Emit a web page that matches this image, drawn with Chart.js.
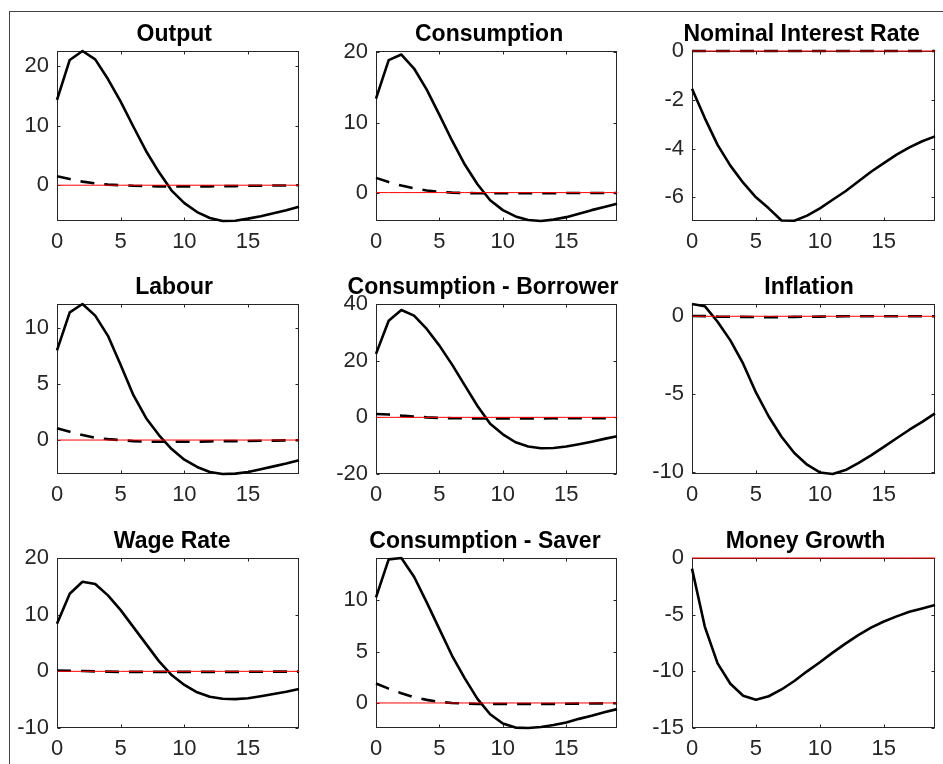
<!DOCTYPE html>
<html>
<head>
<meta charset="utf-8">
<script src="https://cdn.jsdelivr.net/npm/chart.js@4.4.1/dist/chart.umd.min.js"></script>
<style>
  html, body { margin: 0; padding: 0; background: #fff; overflow: hidden; }
  body { width: 943px; height: 764px; position: relative; }
  #frame { position: absolute; left: 9px; top: 11px; width: 1000px; height: 800px;
           border-left: 1px solid #444; border-top: 1px solid #444; }
  canvas { position: absolute; }
</style>
</head>
<body>
<div id="frame"></div>
<script>
// impulse responses, periods 0..19
const periods = [0, 1, 2, 3, 4, 5, 6, 7, 8, 9, 10, 11, 12, 13, 14, 15, 16, 17, 18, 19];
const xTickValues = [0, 5, 10, 15];
const zeroLine = [0, 0, 0, 0, 0, 0, 0, 0, 0, 0, 0, 0, 0, 0, 0, 0, 0, 0, 0, 0];

const panelTitles = ['Output', 'Consumption', 'Nominal Interest Rate',
                     'Labour', 'Consumption - Borrower', 'Inflation',
                     'Wage Rate', 'Consumption - Saver', 'Money Growth'];

const outputSolid = [14.3, 21.0, 22.5, 21.1, 17.8, 14.0, 9.8, 5.7, 2.2, -0.9, -3.0, -4.5, -5.5, -6.0, -5.95, -5.6, -5.2, -4.7, -4.2, -3.6];
const outputDashed = [1.5, 1.05, 0.6, 0.3, 0.1, 0.0, -0.1, -0.15, -0.2, -0.2, -0.2, -0.2, -0.2, -0.15, -0.15, -0.1, -0.1, -0.05, -0.05, 0.0];

const consSolid = [13.4, 18.9, 19.7, 17.7, 14.7, 11.1, 7.4, 4.0, 1.2, -1.1, -2.5, -3.4, -3.9, -4.05, -3.85, -3.5, -3.0, -2.5, -2.05, -1.6];
const consDashed = [2.1, 1.5, 1.0, 0.6, 0.3, 0.1, 0.0, -0.05, -0.1, -0.1, -0.1, -0.1, -0.1, -0.1, -0.1, -0.05, -0.05, -0.05, -0.05, -0.05];

const rateSolid = [-1.55, -2.75, -3.85, -4.7, -5.4, -6.0, -6.45, -6.95, -6.96, -6.75, -6.45, -6.1, -5.75, -5.35, -4.95, -4.6, -4.25, -3.95, -3.7, -3.5];
const rateDashed = [0, 0, 0, 0, 0, 0, 0, 0, 0, 0, 0, 0, 0, 0, 0, 0, 0, 0, 0, 0];

const labourSolid = [8.0, 11.4, 12.14, 11.1, 9.3, 6.7, 4.0, 1.95, 0.45, -0.8, -1.75, -2.4, -2.85, -3.03, -3.0, -2.85, -2.6, -2.35, -2.1, -1.8];
const labourDashed = [1.05, 0.75, 0.45, 0.2, 0.08, 0.0, -0.1, -0.15, -0.15, -0.15, -0.15, -0.15, -0.12, -0.1, -0.1, -0.08, -0.06, -0.05, -0.03, -0.02];

const borrowerSolid = [22.4, 34.1, 37.9, 35.9, 31.2, 25.3, 18.6, 11.3, 4.0, -2.3, -6.0, -8.8, -10.3, -10.9, -10.8, -10.3, -9.5, -8.6, -7.6, -6.7];
const borrowerDashed = [1.2, 1.0, 0.6, 0.3, 0.0, -0.2, -0.3, -0.35, -0.4, -0.4, -0.4, -0.4, -0.4, -0.4, -0.35, -0.35, -0.3, -0.3, -0.3, -0.3];

const inflationSolid = [0.79, 0.65, -0.35, -1.55, -3.05, -4.9, -6.45, -7.75, -8.8, -9.55, -10.05, -10.15, -9.9, -9.45, -8.95, -8.4, -7.85, -7.3, -6.8, -6.25];
const inflationDashed = [0.02, 0.01, -0.02, -0.03, -0.04, -0.05, -0.06, -0.05, -0.04, -0.03, -0.02, -0.01, 0, 0, 0, 0, 0, 0, 0, 0];

const wageSolid = [8.4, 13.7, 15.8, 15.4, 13.4, 10.8, 7.8, 4.8, 1.8, -0.65, -2.4, -3.7, -4.5, -4.85, -4.9, -4.75, -4.4, -4.0, -3.6, -3.1];
const wageDashed = [0.15, 0.1, 0.05, 0.0, -0.05, -0.1, -0.1, -0.1, -0.1, -0.1, -0.1, -0.1, -0.1, -0.1, -0.1, -0.08, -0.08, -0.06, -0.05, -0.05];

const saverSolid = [10.3, 14.0, 14.13, 12.3, 9.8, 7.2, 4.6, 2.4, 0.4, -1.1, -2.0, -2.4, -2.44, -2.35, -2.15, -1.9, -1.55, -1.25, -0.9, -0.6];
const saverDashed = [1.9, 1.4, 0.95, 0.55, 0.3, 0.1, 0.0, -0.05, -0.1, -0.1, -0.1, -0.1, -0.1, -0.1, -0.1, -0.08, -0.06, -0.05, -0.04, -0.03];

const moneySolid = [-0.94, -6.05, -9.3, -11.1, -12.15, -12.5, -12.2, -11.6, -10.85, -10.0, -9.2, -8.35, -7.55, -6.8, -6.15, -5.6, -5.15, -4.75, -4.45, -4.15];
const moneyDashed = []; // no dashed response drawn in this panel

const solidSeries = [outputSolid, consSolid, rateSolid, labourSolid, borrowerSolid, inflationSolid, wageSolid, saverSolid, moneySolid];
const dashedSeries = [outputDashed, consDashed, rateDashed, labourDashed, borrowerDashed, inflationDashed, wageDashed, saverDashed, moneyDashed];

const yLimits = [[-6.0, 22.5], [-4.05, 20.2], [-6.97, 0], [-3.03, 12.14], [-20, 40], [-10.15, 0.79], [-10, 20], [-2.44, 14.13], [-15, 0]];
const yTickValues = [[0, 10, 20], [0, 10, 20], [-6, -4, -2, 0], [0, 5, 10], [-20, 0, 20, 40], [-10, -5, 0], [-10, 0, 10, 20], [0, 5, 10], [-15, -10, -5, 0]];

// layout of the 3x3 grid (plot area boxes)
const colLeft = [57, 376, 692];
const colWidth = [242, 241, 243];
const rowTop = [51, 304, 558];
const boxHeight = 170;
const padLeft = 56, padTop = 48, padBottom = 36, padRight = 4;

const fontFamily = '"Liberation Sans", Arial, Helvetica, sans-serif';
const axisColor = '#262626';

// MATLAB-style box with inward ticks on all four sides
const boxPlugin = {
  id: 'boxPlugin',
  beforeDatasetsDraw(chart) {
    const { ctx, chartArea: a, scales } = chart;
    const l = Math.round(a.left) + 0.5, r = Math.round(a.right) - 0.5;
    const t = Math.round(a.top) + 0.5, b = Math.round(a.bottom) - 0.5;
    const len = 3;
    ctx.save();
    ctx.strokeStyle = axisColor;
    ctx.lineWidth = 1;
    ctx.strokeRect(l, t, r - l, b - t);
    ctx.beginPath();
    scales.x.ticks.forEach((tk) => {
      const px = Math.round(scales.x.getPixelForValue(tk.value)) + 0.5;
      ctx.moveTo(px, b); ctx.lineTo(px, b - len);
      ctx.moveTo(px, t); ctx.lineTo(px, t + len);
    });
    scales.y.ticks.forEach((tk) => {
      const py = Math.round(scales.y.getPixelForValue(tk.value)) + 0.5;
      ctx.moveTo(l, py); ctx.lineTo(l + len, py);
      ctx.moveTo(r, py); ctx.lineTo(r - len, py);
    });
    ctx.stroke();
    ctx.restore();
  }
};

// panel title above the box; the original sits a little left of centre
const panelTitlePlugin = {
  id: 'panelTitle',
  afterDraw(chart, args, opts) {
    const { ctx, chartArea: a } = chart;
    ctx.save();
    ctx.font = 'bold 23px ' + fontFamily;
    ctx.fillStyle = '#000000';
    ctx.textAlign = 'left';
    ctx.textBaseline = 'alphabetic';
    const w = ctx.measureText(opts.text).width;
    ctx.fillText(opts.text, (a.left + a.right) / 2 - 0.55 * w, a.top - 10.3);
    ctx.restore();
  }
};

for (let i = 0; i < 9; i++) {
  const row = Math.floor(i / 3);
  const col = i % 3;

  const canvas = document.createElement('canvas');
  const w = padLeft + colWidth[col] + padRight;
  const h = padTop + boxHeight + padBottom;
  canvas.width = w;
  canvas.height = h;
  canvas.style.left = (colLeft[col] - padLeft) + 'px';
  canvas.style.top = (rowTop[row] - padTop) + 'px';
  canvas.style.width = w + 'px';
  canvas.style.height = h + 'px';
  document.body.appendChild(canvas);

  const datasets = [
    { data: zeroLine, borderColor: '#ff0000', borderWidth: 1, pointRadius: 0, clip: 4 },
  ];
  if (dashedSeries[i].length) {
    datasets.push({ data: dashedSeries[i], borderColor: '#000000', borderWidth: 2.6, borderDash: [14, 10], pointRadius: 0, clip: 4 });
  }
  datasets.push({ data: solidSeries[i], borderColor: '#000000', borderWidth: 2.6, borderJoinStyle: 'round', pointRadius: 0, clip: 4 });

  new Chart(canvas, {
    type: 'line',
    data: { labels: periods, datasets: datasets },
    options: {
      responsive: false,
      animation: false,
      devicePixelRatio: 1,
      layout: { padding: { left: 0, right: padRight, top: padTop, bottom: 0 } },
      plugins: {
        legend: { display: false },
        tooltip: { enabled: false },
        title: { display: false },
        panelTitle: { text: panelTitles[i] },
      },
      scales: {
        x: {
          type: 'linear',
          min: 0,
          max: 19,
          grid: { display: false, drawTicks: false },
          border: { display: false },
          ticks: { color: axisColor, font: { family: fontFamily, size: 22 }, padding: 7.5, maxRotation: 0, autoSkip: false },
          afterBuildTicks: (s) => { s.ticks = xTickValues.map((v) => ({ value: v })); },
          afterFit: (s) => { s.height = padBottom; },
        },
        y: {
          type: 'linear',
          min: yLimits[i][0],
          max: yLimits[i][1],
          grid: { display: false, drawTicks: false },
          border: { display: false },
          ticks: { color: axisColor, font: { family: fontFamily, size: 22 }, padding: 8, autoSkip: false },
          afterBuildTicks: (s) => { s.ticks = yTickValues[i].map((v) => ({ value: v })); },
          afterFit: (s) => { s.width = padLeft; },
        },
      },
    },
    plugins: [boxPlugin, panelTitlePlugin],
  });
}
</script>
</body>
</html>
